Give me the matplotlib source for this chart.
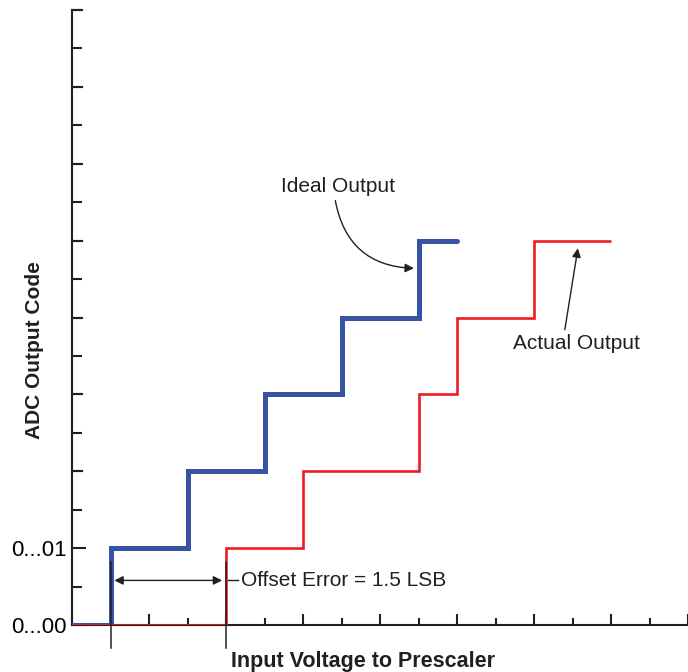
import matplotlib
matplotlib.use("Agg")
import matplotlib.pyplot as plt
from matplotlib.ticker import MultipleLocator

plt.rcParams['font.family'] = ['Liberation Sans', 'DejaVu Sans']

# Ideal (blue) transfer function: step edges and output codes
ideal_x = [0, 0.5, 1.5, 2.5, 3.5, 4.5, 5.0]
ideal_y = [0, 1, 2, 3, 4, 5, 5]
# Actual (red) transfer function
actual_x = [0, 2.0, 3.0, 4.5, 5.0, 6.0, 7.0]
actual_y = [0, 1, 2, 3, 4, 5, 5]

ytick_vals = [0, 1]
ytick_labels = ['0...00', '0...01']
offset_lsb = 1.5

dark = '#231F20'
blue = '#3953A4'
red = '#ED1C24'

fig = plt.figure(figsize=(6.88, 6.72), dpi=100)
ax = fig.add_axes([72/688, 47/672, 616/688, 615/672])
ax.set_xlim(0, 8)
ax.set_ylim(0, 8)

ax.step(ideal_x, ideal_y, where='post', color=blue, lw=3.6, zorder=3,
        solid_capstyle='round', solid_joinstyle='miter')
ax.step(actual_x, actual_y, where='post', color=red, lw=1.9, zorder=4,
        solid_capstyle='butt', solid_joinstyle='miter')

# offset markers
x0 = ideal_x[1]
x1 = x0 + offset_lsb
for xv in (x0, x1):
    ax.plot([xv, xv], [-0.30, 0.82], color=dark, lw=1.1, clip_on=False, zorder=5)

ax.annotate('', xy=(x0 + 0.05, 0.58), xytext=(x1 - 0.05, 0.58),
            arrowprops=dict(arrowstyle='<|-|>', color=dark, lw=1.0,
                            mutation_scale=13, shrinkA=0, shrinkB=0))
ax.plot([x1 + 0.03, x1 + 0.16], [0.58, 0.58], color=dark, lw=1.0)
ax.text(x1 + 0.19, 0.58, 'Offset Error = 1.5 LSB', fontsize=15,
        va='center', ha='left', color=dark)

ax.text(3.45, 5.71, 'Ideal Output', fontsize=15, ha='center', va='center', color=dark)
ax.annotate('', xy=(4.44, 4.64), xytext=(3.42, 5.52),
            arrowprops=dict(arrowstyle='-|>', color=dark, lw=1.0,
                            mutation_scale=13, shrinkA=0, shrinkB=0,
                            connectionstyle='arc3,rad=0.4'))
ax.text(6.55, 3.66, 'Actual Output', fontsize=15, ha='center', va='center', color=dark)
ax.annotate('', xy=(6.57, 4.90), xytext=(6.40, 3.84),
            arrowprops=dict(arrowstyle='-|>', color=dark, lw=1.0,
                            mutation_scale=13, shrinkA=0, shrinkB=0))

for side in ('top', 'right'):
    ax.spines[side].set_visible(False)
for side in ('left', 'bottom'):
    ax.spines[side].set_linewidth(1.5)
    ax.spines[side].set_color(dark)

ax.xaxis.set_major_locator(MultipleLocator(1))
ax.xaxis.set_minor_locator(MultipleLocator(0.5))
ax.tick_params(axis='x', which='major', direction='in', length=8, width=1.5,
               color=dark, labelbottom=False)
ax.tick_params(axis='x', which='minor', direction='in', length=5, width=1.5, color=dark)
ax.tick_params(axis='y', which='major', direction='in', length=10, width=1.5,
               color=dark, labelsize=16, pad=4)
ax.tick_params(axis='y', which='minor', direction='in', length=7, width=1.5, color=dark)

ax.set_yticks(ytick_vals, labels=ytick_labels, minor=False)
ax.set_yticks([v * 0.5 for v in range(17)], minor=True)
# major tick marks at remaining integers (unlabelled)
for v in range(2, 9):
    ax.plot([0, 0.13], [v, v], color=dark, lw=1.5, clip_on=False, zorder=2)

ax.set_xlabel('Input Voltage to Prescaler', fontsize=15.5, fontweight='bold',
              color=dark)
ax.set_ylabel('ADC Output Code', fontsize=15, fontweight='bold', color=dark)
ax.yaxis.set_label_coords(-0.045, 0.447)
ax.xaxis.set_label_coords(0.473, -0.042)

fig.savefig('out.png', dpi=100)
